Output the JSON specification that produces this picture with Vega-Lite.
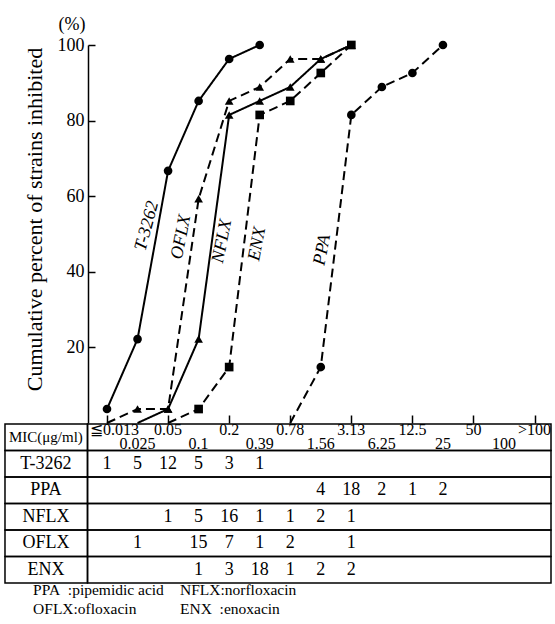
{
  "$schema": "https://vega.github.io/schema/vega-lite/v6.json",
  "autosize": {"type": "none"},
  "padding": {"left": 88, "top": 45, "right": 4, "bottom": 201},
  "width": 463,
  "height": 378,
  "config": {"view": {"stroke": null}, "font": "Liberation Serif", "text": {"font": "Liberation Serif", "color": "black"}},
  "datasets": {
    "curves": [
      {"drug": "T-3262", "idx": 0, "mic": "≦0.013", "pct": 3.7},
      {"drug": "T-3262", "idx": 1, "mic": "0.025", "pct": 22.2},
      {"drug": "T-3262", "idx": 2, "mic": "0.05", "pct": 66.7},
      {"drug": "T-3262", "idx": 3, "mic": "0.1", "pct": 85.2},
      {"drug": "T-3262", "idx": 4, "mic": "0.2", "pct": 96.3},
      {"drug": "T-3262", "idx": 5, "mic": "0.39", "pct": 100},
      {"drug": "OFLX", "idx": 0, "mic": "≦0.013", "pct": 0},
      {"drug": "OFLX", "idx": 1, "mic": "0.025", "pct": 3.7},
      {"drug": "OFLX", "idx": 2, "mic": "0.05", "pct": 3.7},
      {"drug": "OFLX", "idx": 3, "mic": "0.1", "pct": 59.3},
      {"drug": "OFLX", "idx": 4, "mic": "0.2", "pct": 85.2},
      {"drug": "OFLX", "idx": 5, "mic": "0.39", "pct": 88.9},
      {"drug": "OFLX", "idx": 6, "mic": "0.78", "pct": 96.3},
      {"drug": "OFLX", "idx": 7, "mic": "1.56", "pct": 96.3},
      {"drug": "OFLX", "idx": 8, "mic": "3.13", "pct": 100},
      {"drug": "NFLX", "idx": 1, "mic": "0.025", "pct": 0},
      {"drug": "NFLX", "idx": 2, "mic": "0.05", "pct": 3.7},
      {"drug": "NFLX", "idx": 3, "mic": "0.1", "pct": 22.2},
      {"drug": "NFLX", "idx": 4, "mic": "0.2", "pct": 81.5},
      {"drug": "NFLX", "idx": 5, "mic": "0.39", "pct": 85.2},
      {"drug": "NFLX", "idx": 6, "mic": "0.78", "pct": 88.9},
      {"drug": "NFLX", "idx": 7, "mic": "1.56", "pct": 96.3},
      {"drug": "NFLX", "idx": 8, "mic": "3.13", "pct": 100},
      {"drug": "ENX", "idx": 2, "mic": "0.05", "pct": 0},
      {"drug": "ENX", "idx": 3, "mic": "0.1", "pct": 3.7},
      {"drug": "ENX", "idx": 4, "mic": "0.2", "pct": 14.8},
      {"drug": "ENX", "idx": 5, "mic": "0.39", "pct": 81.5},
      {"drug": "ENX", "idx": 6, "mic": "0.78", "pct": 85.2},
      {"drug": "ENX", "idx": 7, "mic": "1.56", "pct": 92.6},
      {"drug": "ENX", "idx": 8, "mic": "3.13", "pct": 100},
      {"drug": "PPA", "idx": 6, "mic": "0.78", "pct": 0},
      {"drug": "PPA", "idx": 7, "mic": "1.56", "pct": 14.8},
      {"drug": "PPA", "idx": 8, "mic": "3.13", "pct": 81.5},
      {"drug": "PPA", "idx": 9, "mic": "6.25", "pct": 88.9},
      {"drug": "PPA", "idx": 10, "mic": "12.5", "pct": 92.6},
      {"drug": "PPA", "idx": 11, "mic": "25", "pct": 100}
    ],
    "counts": [
      {"row": "T-3262", "idx": 0, "n": 1},
      {"row": "T-3262", "idx": 1, "n": 5},
      {"row": "T-3262", "idx": 2, "n": 12},
      {"row": "T-3262", "idx": 3, "n": 5},
      {"row": "T-3262", "idx": 4, "n": 3},
      {"row": "T-3262", "idx": 5, "n": 1},
      {"row": "PPA", "idx": 7, "n": 4},
      {"row": "PPA", "idx": 8, "n": 18},
      {"row": "PPA", "idx": 9, "n": 2},
      {"row": "PPA", "idx": 10, "n": 1},
      {"row": "PPA", "idx": 11, "n": 2},
      {"row": "NFLX", "idx": 2, "n": 1},
      {"row": "NFLX", "idx": 3, "n": 5},
      {"row": "NFLX", "idx": 4, "n": 16},
      {"row": "NFLX", "idx": 5, "n": 1},
      {"row": "NFLX", "idx": 6, "n": 1},
      {"row": "NFLX", "idx": 7, "n": 2},
      {"row": "NFLX", "idx": 8, "n": 1},
      {"row": "OFLX", "idx": 1, "n": 1},
      {"row": "OFLX", "idx": 3, "n": 15},
      {"row": "OFLX", "idx": 4, "n": 7},
      {"row": "OFLX", "idx": 5, "n": 1},
      {"row": "OFLX", "idx": 6, "n": 2},
      {"row": "OFLX", "idx": 8, "n": 1},
      {"row": "ENX", "idx": 3, "n": 1},
      {"row": "ENX", "idx": 4, "n": 3},
      {"row": "ENX", "idx": 5, "n": 18},
      {"row": "ENX", "idx": 6, "n": 1},
      {"row": "ENX", "idx": 7, "n": 2},
      {"row": "ENX", "idx": 8, "n": 2}
    ],
    "rows": [
      {"row": "MIC(μg/ml)"}, {"row": "T-3262"}, {"row": "PPA"}, {"row": "NFLX"}, {"row": "OFLX"}, {"row": "ENX"}
    ],
    "mics": [
      {"idx": 0, "mic": "≦0.013"}, {"idx": 1, "mic": "0.025"}, {"idx": 2, "mic": "0.05"},
      {"idx": 3, "mic": "0.1"}, {"idx": 4, "mic": "0.2"}, {"idx": 5, "mic": "0.39"},
      {"idx": 6, "mic": "0.78"}, {"idx": 7, "mic": "1.56"}, {"idx": 8, "mic": "3.13"},
      {"idx": 9, "mic": "6.25"}, {"idx": 10, "mic": "12.5"}, {"idx": 11, "mic": "25"},
      {"idx": 12, "mic": "50"}, {"idx": 13, "mic": "100"}, {"idx": 14, "mic": ">100"}
    ]
  },
  "layer": [
    {
      "data": {"values": [{}]},
      "layer": [
        {
          "data": {"name": "curves"},
          "mark": {"type": "line", "color": "black", "strokeWidth": 2},
          "encoding": {
            "x": {
              "field": "idx", "type": "quantitative",
              "scale": {"domain": [-0.622, 14.538], "nice": false, "zero": false},
              "axis": {"orient": "bottom", "values": [0,1,2,3,4,5,6,7,8,9,10,11,12,13,14], "labels": false, "domain": false, "grid": false, "ticks": true, "tickSize": -8, "tickColor": "black", "tickWidth": 1.5, "title": null}
            },
            "y": {
              "field": "pct", "type": "quantitative",
              "scale": {"domain": [0, 100], "nice": false, "zero": false},
              "axis": {"orient": "left", "values": [20, 40, 60, 80, 100], "grid": false, "domain": true, "domainColor": "black", "domainWidth": 1.5, "ticks": true, "tickSize": -7, "tickColor": "black", "tickWidth": 1.5, "labelFont": "Liberation Serif", "labelFontSize": 18, "labelColor": "black", "labelPadding": 11, "labelFlush": false, "labelOverlap": false, "title": "Cumulative percent of strains inhibited", "titleFont": "Liberation Serif", "titleFontSize": 22, "titleFontWeight": "normal", "titleColor": "black", "titleX": -54, "titleY": 174, "titleAngle": 270, "titleAlign": "center", "titleBaseline": "middle"}
            },
            "detail": {"field": "drug", "type": "nominal"},
            "strokeDash": {"field": "drug", "type": "nominal", "scale": {"domain": ["T-3262", "OFLX", "NFLX", "ENX", "PPA"], "range": [[1, 0], [9, 5], [1, 0], [9, 5], [9, 5]]}, "legend": null}
          }
        },
        {
          "data": {"name": "curves"},
          "transform": [{"filter": "datum.pct > 0"}],
          "mark": {"type": "point", "filled": true, "color": "black", "opacity": 1, "size": 75},
          "encoding": {
            "x": {"field": "idx", "type": "quantitative"},
            "y": {"field": "pct", "type": "quantitative"},
            "shape": {"field": "drug", "type": "nominal", "scale": {"domain": ["T-3262", "OFLX", "NFLX", "ENX", "PPA"], "range": ["circle", "triangle-up", "triangle-up", "square", "circle"]}, "legend": null}
          }
        },
        {"mark": {"type": "text", "text": "T-3262", "angle": 285, "fontSize": 18, "fontStyle": "italic"}, "encoding": {"x": {"datum": 1.31}, "y": {"datum": 52.1}}},
        {"mark": {"type": "text", "text": "OFLX", "angle": 281, "fontSize": 18, "fontStyle": "italic"}, "encoding": {"x": {"datum": 2.43}, "y": {"datum": 49.2}}},
        {"mark": {"type": "text", "text": "NFLX", "angle": 281, "fontSize": 18, "fontStyle": "italic"}, "encoding": {"x": {"datum": 3.77}, "y": {"datum": 48.1}}},
        {"mark": {"type": "text", "text": "ENX", "angle": 281, "fontSize": 18, "fontStyle": "italic"}, "encoding": {"x": {"datum": 4.92}, "y": {"datum": 47.4}}},
        {"mark": {"type": "text", "text": "PPA", "angle": 281, "fontSize": 18, "fontStyle": "italic"}, "encoding": {"x": {"datum": 7.05}, "y": {"datum": 45.8}}},
        {"mark": {"type": "text", "text": "(%)", "fontSize": 18}, "encoding": {"x": {"datum": -1.15}, "y": {"datum": 105.3}}},
        {"mark": {"type": "text", "text": "PPA\u00a0\u00a0:pipemidic acid", "fontSize": 15.5, "align": "left"}, "encoding": {"x": {"datum": -2.42}, "y": {"datum": -44.3}}},
        {"mark": {"type": "text", "text": "NFLX:norfloxacin", "fontSize": 15.5, "align": "left"}, "encoding": {"x": {"datum": 2.39}, "y": {"datum": -44.3}}},
        {"mark": {"type": "text", "text": "OFLX:ofloxacin", "fontSize": 15.5, "align": "left"}, "encoding": {"x": {"datum": -2.42}, "y": {"datum": -49.3}}},
        {"mark": {"type": "text", "text": "ENX\u00a0\u00a0:enoxacin", "fontSize": 15.5, "align": "left"}, "encoding": {"x": {"datum": 2.39}, "y": {"datum": -49.3}}}
      ]
    },
    {
      "layer": [
        {
          "data": {"name": "rows"},
          "mark": {"type": "rect", "fill": "white", "fillOpacity": 0, "stroke": "black", "strokeWidth": 1.5},
          "encoding": {
            "x": {"datum": -3.34},
            "x2": {"datum": -0.638},
            "y": {"field": "row", "type": "nominal", "scale": {"type": "band", "domain": ["MIC(μg/ml)", "T-3262", "PPA", "NFLX", "OFLX", "ENX"], "range": [379, 538], "paddingInner": 0, "paddingOuter": 0}, "axis": null}
          }
        },
        {
          "data": {"name": "rows"},
          "mark": {"type": "rect", "fill": "white", "fillOpacity": 0, "stroke": "black", "strokeWidth": 1.5},
          "encoding": {
            "x": {"datum": -0.638},
            "x2": {"datum": 14.538},
            "y": {"field": "row", "type": "nominal"}
          }
        },
        {
          "data": {"name": "rows"},
          "mark": {"type": "text"},
          "encoding": {
            "x": {"datum": -2.0},
            "y": {"field": "row", "type": "nominal"},
            "text": {"field": "row"},
            "size": {"condition": {"test": "datum.row === 'MIC(μg/ml)'", "value": 15}, "value": 18}
          }
        },
        {
          "data": {"name": "mics"},
          "transform": [{"filter": "datum.idx === 0"}],
          "mark": {"type": "text", "fontSize": 16, "align": "left", "dx": -17, "dy": -7},
          "encoding": {
            "x": {"field": "idx", "type": "quantitative"},
            "y": {"datum": "MIC(μg/ml)"},
            "text": {"field": "mic"}
          }
        },
        {
          "data": {"name": "mics"},
          "transform": [{"filter": "datum.idx > 0 && datum.idx % 2 === 0"}],
          "mark": {"type": "text", "fontSize": 16, "dy": -7},
          "encoding": {
            "x": {"field": "idx", "type": "quantitative"},
            "y": {"datum": "MIC(μg/ml)"},
            "text": {"field": "mic"}
          }
        },
        {
          "data": {"name": "mics"},
          "transform": [{"filter": "datum.idx % 2 === 1"}],
          "mark": {"type": "text", "fontSize": 16, "dy": 7},
          "encoding": {
            "x": {"field": "idx", "type": "quantitative"},
            "y": {"datum": "MIC(μg/ml)"},
            "text": {"field": "mic"}
          }
        },
        {
          "data": {"name": "counts"},
          "mark": {"type": "text", "fontSize": 18},
          "encoding": {
            "x": {"field": "idx", "type": "quantitative"},
            "y": {"field": "row", "type": "nominal"},
            "text": {"field": "n"}
          }
        }
      ]
    }
  ],
  "resolve": {"scale": {"y": "independent"}}
}
